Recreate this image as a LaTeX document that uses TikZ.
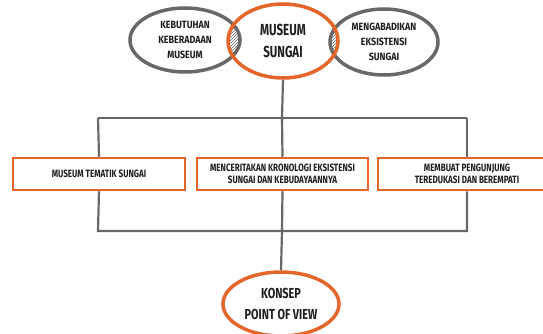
\documentclass[tikz,border=0pt]{standalone}
\usepackage{fontspec}
\setmainfont{Fira Sans}
\newfontfamily\fSmall{Fira Sans}[FakeStretch=0.85]
\newfontfamily\fBox{Fira Sans}[FakeStretch=0.76]
\newfontfamily\fMid{Fira Sans}[FakeStretch=0.72]
\newfontfamily\fKon{Fira Sans}[FakeStretch=0.75]
\usetikzlibrary{shapes.geometric,patterns}
\definecolor{orng}{HTML}{E4662A}
\definecolor{gry}{HTML}{6B6768}
\definecolor{txt}{HTML}{1E1E1E}
\tikzset{
  conn/.style={draw=gry,line width=2.2pt},
  greyell/.style={ellipse,draw=gry,line width=3.5pt,inner sep=0pt,align=center,text=txt,font=\fSmall\fontsize{10.5}{15}\selectfont\bfseries},
  orell/.style={ellipse,draw=orng,line width=3.5pt,inner sep=0pt,align=center,text=txt},
  obox/.style={draw=orng,line width=2.5pt,fill=white,inner sep=0pt,align=center,text=txt,font=\fBox\fontsize{10.6}{12.5}\selectfont\bfseries}
}
\begin{document}
\begin{tikzpicture}[x=1pt,y=1pt]
\useasboundingbox (0,0) rectangle (543,-334);
\coordinate (t1) at (98,-118);
\coordinate (t2) at (282,-118);
\coordinate (t3) at (467,-118);
\coordinate (b1) at (98,-231);
\coordinate (b2) at (282,-231);
\coordinate (b3) at (467,-231);
\node[obox,minimum width=172,minimum height=32] (box1) at (99,-174) {MUSEUM TEMATIK SUNGAI};
\node[obox,minimum width=171,minimum height=32] (box2) at (282.5,-174) {MENCERITAKAN KRONOLOGI EKSISTENSI\\SUNGAI DAN KEBUDAYAANNYA};
\node[obox,minimum width=178,minimum height=32] (box3) at (467,-174) {MEMBUAT PENGUNJUNG\\TEREDUKASI DAN BEREMPATI};
\node[greyell,minimum width=110,minimum height=64] (left) at (185,-40) {KEBUTUHAN\\KEBERADAAN\\MUSEUM};
\node[greyell,minimum width=108,minimum height=66] (right) at (384,-42) {MENGABADIKAN\\EKSISTENSI\\SUNGAI};
\begin{scope}
  \clip (185,-40) ellipse [x radius=55, y radius=32];
  \fill[pattern=north east lines,pattern color=gry] (283,-41) ellipse [x radius=55, y radius=37];
\end{scope}
\begin{scope}
  \clip (384,-42) ellipse [x radius=54, y radius=33];
  \fill[pattern=north east lines,pattern color=gry] (283,-41) ellipse [x radius=55, y radius=37];
\end{scope}
\node[orell,minimum width=110,minimum height=74,font=\fMid\fontsize{16}{22}\selectfont\bfseries] (mid) at (283,-41) {MUSEUM\\SUNGAI};
\node[orell,minimum width=116,minimum height=64,font=\fKon\fontsize{14.5}{21}\selectfont\bfseries] (konsep) at (281,-304) {KONSEP\\POINT OF VIEW};
\draw[conn] (mid.south) -- (t2);
\draw[conn] (t1) -- (t3);
\draw[conn] (t1) -- (box1.north);
\draw[conn] (t3) -- (box3.north);
\draw[conn] (t2) -- (box2.north);
\draw[conn] (box1.south) -- (b1) -- (b3) -- (box3.south);
\draw[conn] (box2.south) -- (b2) -- (konsep.north);
\end{tikzpicture}
\end{document}
